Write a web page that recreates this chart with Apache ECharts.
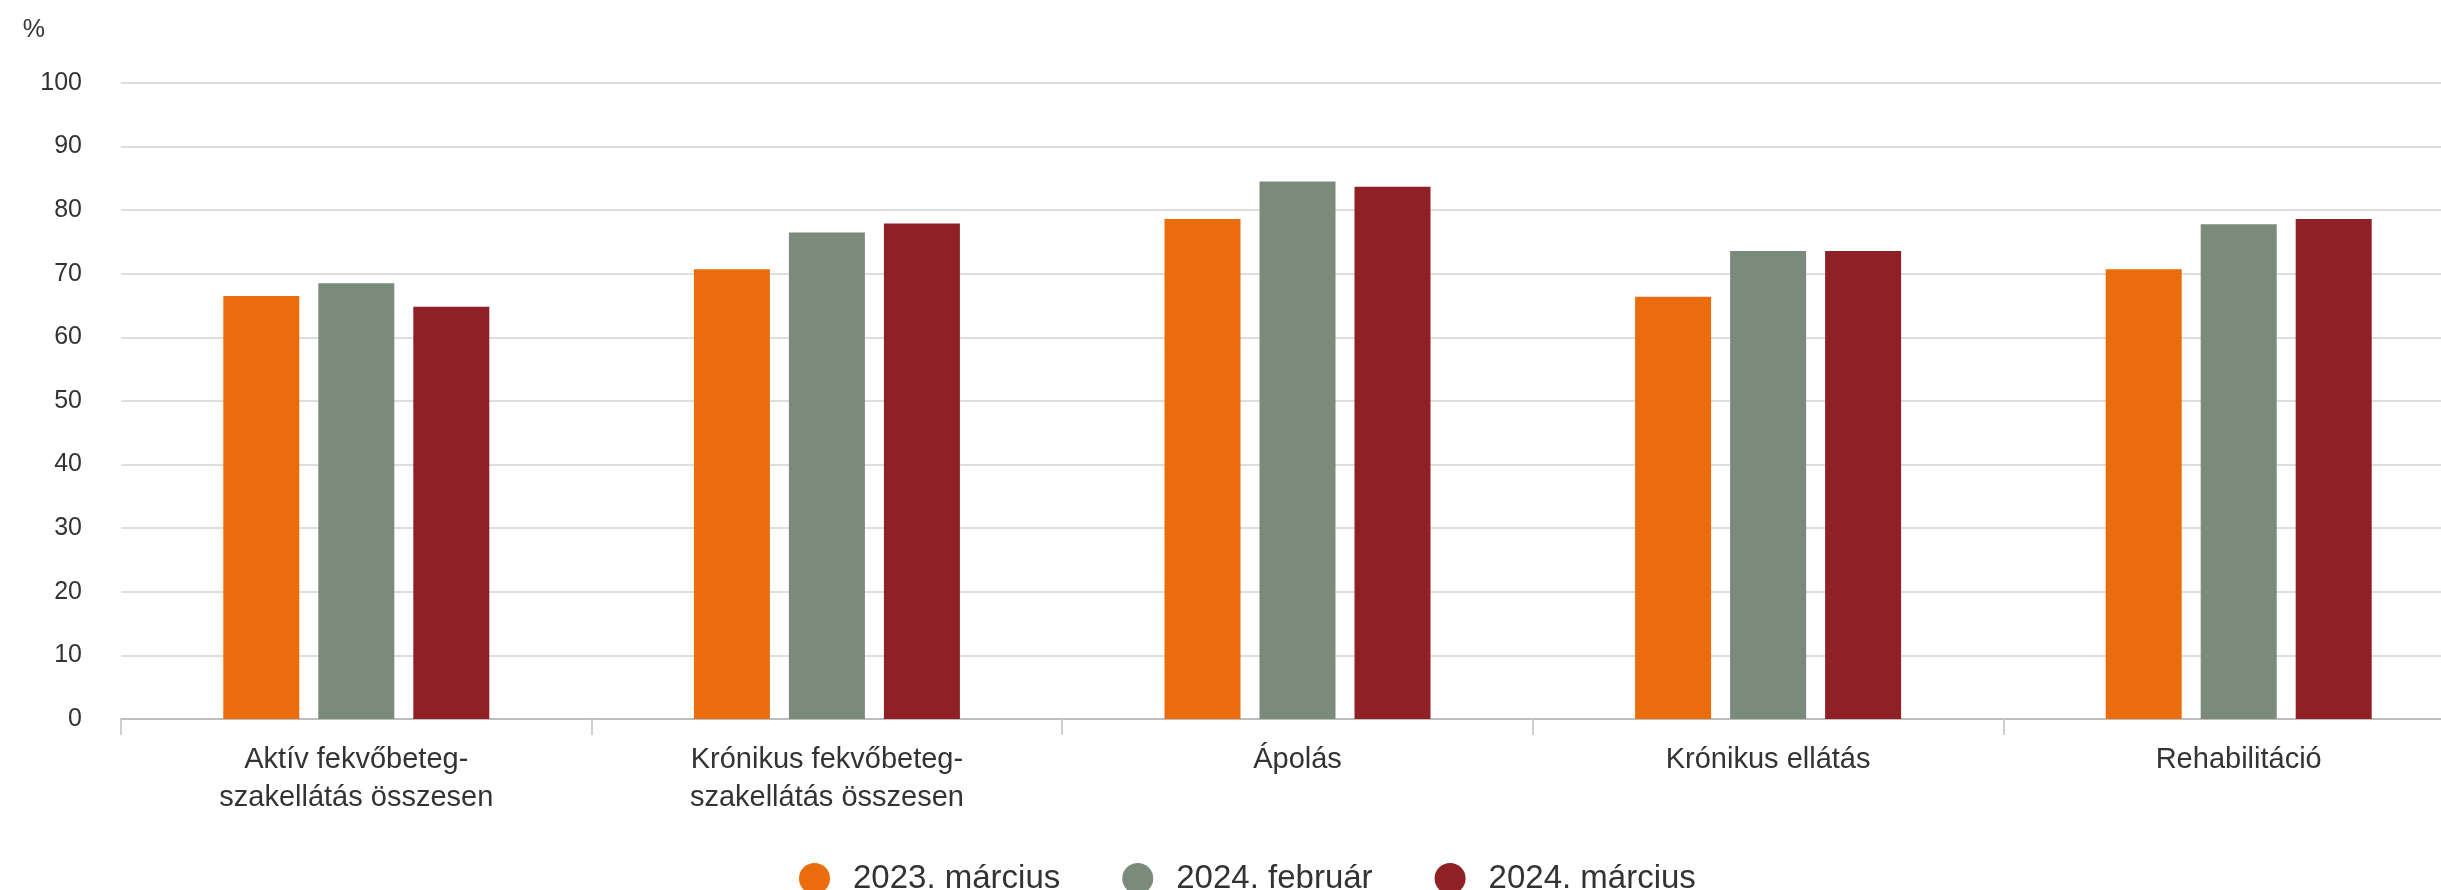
<!DOCTYPE html>
<html>
<head>
<meta charset="utf-8">
<script src="https://cdn.jsdelivr.net/npm/echarts@6/dist/echarts.min.js"></script>
<style>
html,body{margin:0;padding:0;background:#fff;overflow:hidden;width:2441px;height:890px;}
#chart{width:2474px;height:890px;}
</style>
</head>
<body>
<div id="chart"></div>
<script>
const categories = [
  "Aktív fekvőbeteg-\nszakellátás összesen",
  "Krónikus fekvőbeteg-\nszakellátás összesen",
  "Ápolás",
  "Krónikus ellátás",
  "Rehabilitáció"
];
const seriesNames = ["2023. március", "2024. február", "2024. március"];
const mar2023 = [66.5, 70.7, 78.6, 66.4, 70.7];
const feb2024 = [68.5, 76.5, 84.5, 73.6, 77.8];
const mar2024 = [64.8, 77.9, 83.7, 73.6, 78.6];
const colors = ["#EA6C0D", "#7A8B7C", "#8F2025"];

const chart = echarts.init(document.getElementById('chart'), null, {renderer: 'canvas'});
const font = 'Arial, "Liberation Sans", sans-serif';
chart.setOption({
  animation: false,
  backgroundColor: '#ffffff',
  color: colors,
  textStyle: {fontFamily: font},
  grid: {left: 121, top: 83, width: 2353, height: 636, containLabel: false},
  legend: {
    left: 794, top: 857,
    icon: 'circle', itemWidth: 31, itemHeight: 31, itemGap: 62,
    textStyle: {fontSize: 33, color: '#333', fontFamily: font, padding: [0, 0, 0, 18]},
    data: seriesNames
  },
  xAxis: {
    type: 'category',
    data: categories,
    boundaryGap: true,
    axisLine: {lineStyle: {color: '#bdbdbd', width: 2}},
    axisTick: {show: true, length: 16, lineStyle: {color: '#cfcfcf', width: 2}},
    axisLabel: {fontSize: 29, color: '#333', margin: 22, lineHeight: 38, fontFamily: font, interval: 0}
  },
  yAxis: {
    type: 'value', min: 0, max: 100, interval: 10,
    name: '%', nameLocation: 'end', nameGap: 40,
    nameTextStyle: {fontSize: 25, color: '#333', align: 'right', padding: [0, 76, 0, 0], fontFamily: font},
    axisLine: {show: false}, axisTick: {show: false},
    axisLabel: {fontSize: 25, color: '#333', margin: 39, fontFamily: font},
    splitLine: {lineStyle: {color: '#dedede', width: 2}}
  },
  series: [
    {name: seriesNames[0], type: 'bar', data: mar2023, barWidth: 76, barGap: '25%'},
    {name: seriesNames[1], type: 'bar', data: feb2024, barWidth: 76, barGap: '25%'},
    {name: seriesNames[2], type: 'bar', data: mar2024, barWidth: 76, barGap: '25%'}
  ]
});
</script>
</body>
</html>
